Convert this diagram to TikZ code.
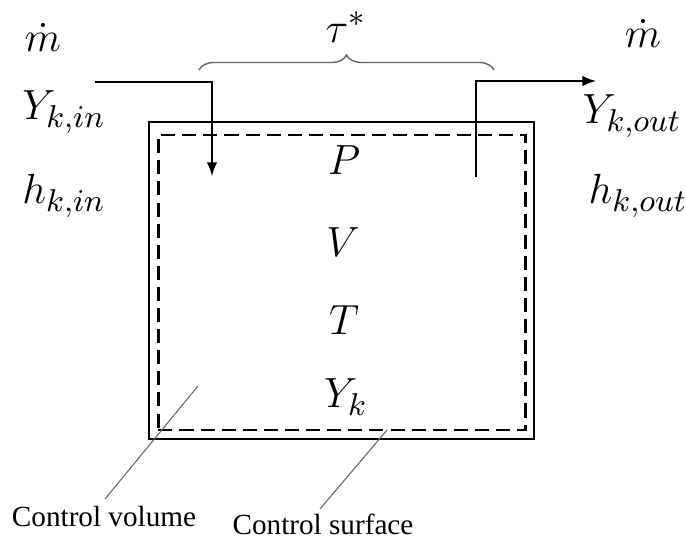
\documentclass[tikz,border=0pt]{standalone}
\usepackage{fontspec}
\newfontfamily\labelfont{Liberation Serif}
\usepackage{amsmath}
\usetikzlibrary{decorations.pathreplacing}

\begin{document}
\begin{tikzpicture}[x=0.01cm, y=-0.01cm, >=latex,
    every node/.style={font=\fontsize{13}{15}\selectfont},
    note/.style={font=\labelfont\fontsize{8.3}{10}\selectfont},
    leader/.style={draw=black!60, line width=0.3pt}]
        \useasboundingbox (0,0) rectangle (686,543);
        % control volume and control surface
        \node[draw, line width=0.7pt, minimum width=3.85cm, minimum height=3.17cm, inner sep=0pt] (cv) at (341.5,280.5) {};
        \node[draw, line width=0.8pt, dash pattern=on 4pt off 2pt, minimum width=3.67cm, minimum height=2.95cm, inner sep=0pt] (cs) at (342,282.5) {};
        % state inside
        \node (p) at (344,160) {$P$};
        \node (v) at (343,242) {$V$};
        \node (t) at (344,320) {$T$};
        \node (yk) at (346,397) {$Y_k$};
        % inlet
        \node (min) at (43,38) {$\dot m$};
        \node (yin) at (64,112) {$Y_{k,in}$};
        \node (hin) at (64,196) {$h_{k,in}$};
        % outlet
        \node (mout) at (643,34) {$\dot m$};
        \node (yout) at (632,116) {$Y_{k,out}$};
        \node (hout) at (638,196) {$h_{k,out}$};
        % residence time
        \node (tau) at (346,27) {$\tau^{*}$};
        \coordinate (bl) at (199,70);
        \coordinate (br) at (494,70);
        \draw[draw=black!60, line width=0.4pt, decorate, decoration={brace, amplitude=0.15cm}] (bl) -- (br);
        % flow arrows
        \coordinate (ina) at (95,82);
        \coordinate (inb) at (212,176);
        \coordinate (outa) at (476,177);
        \coordinate (outb) at (596,81);
        \draw[->, line width=0.35pt] (ina) -| (inb);
        \draw[->, line width=0.35pt] (outa) |- (outb);
        % labels below
        \node[note] (cvl) at (104,517) {Control volume};
        \node[note] (csl) at (323,524) {Control surface};
        \coordinate (cvp) at (198,386);
        \coordinate (csp) at (387,430);
        \draw[leader] (cvp) -- (105,499);
        \draw[leader] (csp) -- (320,509);
    \end{tikzpicture}
\end{document}
